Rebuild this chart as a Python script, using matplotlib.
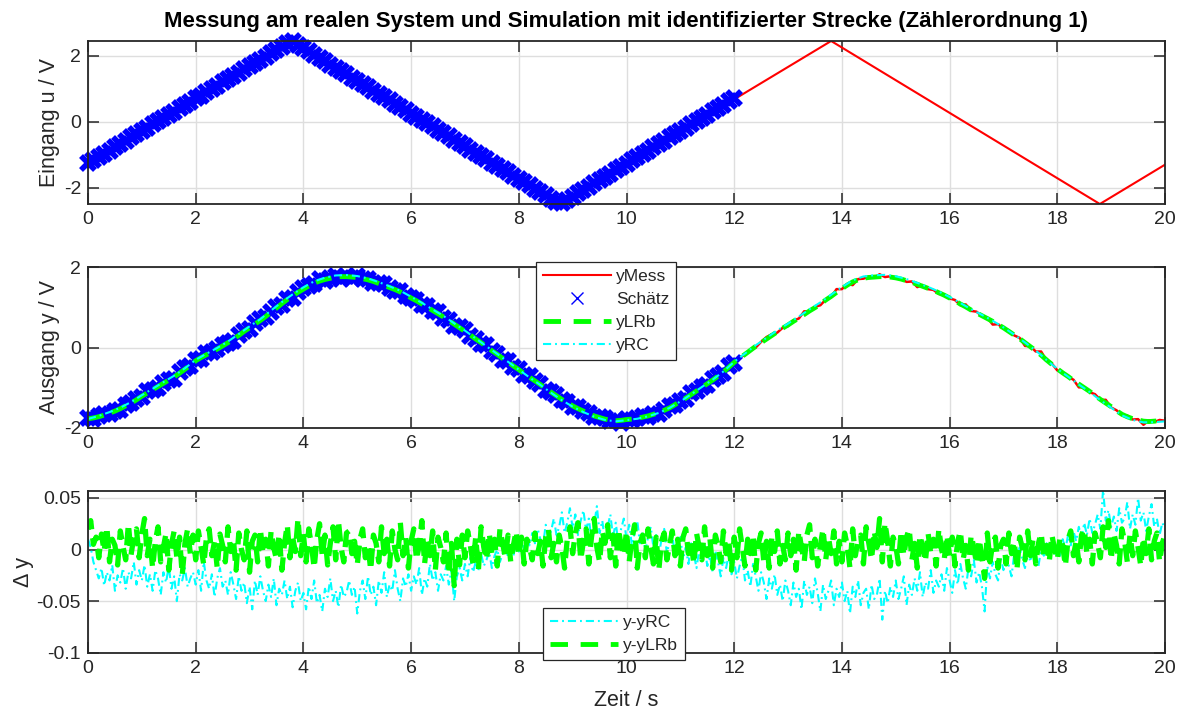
import numpy as np
import matplotlib
matplotlib.use("Agg")
import matplotlib.pyplot as plt
from matplotlib.lines import Line2D

plt.rcParams['font.family'] = ['Liberation Sans', 'DejaVu Sans']
plt.rcParams['axes.unicode_minus'] = False

# ---------------- data ----------------
title = "Messung am realen System und Simulation mit identifizierter Strecke (Zählerordnung 1)"

# input u: corner points of the triangle signal (0..20 s)
t_u = [0.0, 3.78, 8.77, 13.8, 18.79, 20.0]
u_mess = [-1.26, 2.455, -2.494, 2.455, -2.494, -1.30]

# estimation samples of u (0..12 s, every 0.1 s)
u_est = [-1.26, -1.16, -1.06, -0.97, -0.87, -0.77, -0.67, -0.57, -0.47, -0.38,
         -0.28, -0.18, -0.08, 0.02, 0.12, 0.21, 0.31, 0.41, 0.51, 0.61,
         0.71, 0.80, 0.90, 1.00, 1.10, 1.20, 1.30, 1.39, 1.49, 1.59,
         1.69, 1.79, 1.89, 1.98, 2.08, 2.18, 2.28, 2.38, 2.44, 2.34,
         2.24, 2.14, 2.04, 1.94, 1.84, 1.74, 1.64, 1.54, 1.44, 1.34,
         1.24, 1.15, 1.05, 0.95, 0.85, 0.75, 0.65, 0.55, 0.45, 0.35,
         0.25, 0.15, 0.05, -0.04, -0.14, -0.24, -0.34, -0.44, -0.54, -0.64,
         -0.74, -0.84, -0.94, -1.04, -1.14, -1.24, -1.34, -1.43, -1.53, -1.63,
         -1.73, -1.83, -1.93, -2.03, -2.13, -2.23, -2.33, -2.43, -2.46, -2.36,
         -2.27, -2.17, -2.07, -1.97, -1.87, -1.77, -1.67, -1.57, -1.47, -1.37,
         -1.27, -1.17, -1.07, -0.97, -0.87, -0.77, -0.67, -0.57, -0.47, -0.37,
         -0.28, -0.18, -0.08, 0.02, 0.12, 0.22, 0.32, 0.42, 0.52, 0.62,
         0.72]

# measured output y (0..20 s, every 0.1 s)
y_mess = [-1.75, -1.78, -1.71, -1.64, -1.65, -1.58, -1.56, -1.42, -1.39, -1.28,
          -1.23, -1.08, -1.06, -1.00, -0.87, -0.80, -0.78, -0.62, -0.51, -0.46,
          -0.32, -0.28, -0.14, -0.12, -0.04, 0.07, 0.10, 0.17, 0.32, 0.41,
          0.46, 0.60, 0.72, 0.75, 0.87, 1.01, 1.06, 1.20, 1.24, 1.39,
          1.48, 1.52, 1.58, 1.69, 1.66, 1.73, 1.77, 1.71, 1.77, 1.73,
          1.77, 1.69, 1.69, 1.60, 1.61, 1.58, 1.48, 1.41, 1.40, 1.29,
          1.24, 1.19, 1.05, 1.02, 0.91, 0.88, 0.74, 0.68, 0.54, 0.51,
          0.43, 0.29, 0.22, 0.09, 0.06, -0.09, -0.15, -0.31, -0.33, -0.48,
          -0.54, -0.68, -0.70, -0.84, -0.90, -1.05, -1.10, -1.17, -1.31, -1.35,
          -1.49, -1.49, -1.59, -1.62, -1.73, -1.73, -1.75, -1.82, -1.80, -1.87,
          -1.77, -1.81, -1.75, -1.70, -1.72, -1.64, -1.65, -1.55, -1.46, -1.44,
          -1.33, -1.29, -1.14, -1.09, -0.97, -0.94, -0.79, -0.70, -0.64, -0.47,
          -0.38, -0.24, -0.19, -0.06, 0.00, 0.14, 0.26, 0.33, 0.37, 0.49,
          0.53, 0.67, 0.72, 0.90, 0.89, 1.01, 1.05, 1.19, 1.25, 1.45,
          1.45, 1.58, 1.55, 1.70, 1.71, 1.76, 1.73, 1.82, 1.75, 1.77,
          1.71, 1.71, 1.63, 1.64, 1.50, 1.55, 1.45, 1.43, 1.33, 1.32,
          1.22, 1.18, 1.05, 1.07, 0.91, 0.89, 0.78, 0.74, 0.57, 0.58,
          0.47, 0.43, 0.30, 0.24, 0.04, 0.03, -0.10, -0.10, -0.32, -0.40,
          -0.57, -0.61, -0.73, -0.80, -0.99, -0.99, -1.11, -1.16, -1.30, -1.30,
          -1.49, -1.56, -1.68, -1.69, -1.79, -1.78, -1.92, -1.81, -1.85, -1.80,
          -1.82]

# simulated output yLRb (0..20 s, every 0.1 s)
y_lrb = [-1.77, -1.75, -1.72, -1.68, -1.63, -1.58, -1.52, -1.45, -1.38, -1.30,
         -1.21, -1.13, -1.05, -0.97, -0.89, -0.81, -0.73, -0.64, -0.54, -0.44,
         -0.33, -0.25, -0.18, -0.11, -0.04, 0.04, 0.12, 0.21, 0.30, 0.40,
         0.49, 0.58, 0.67, 0.77, 0.88, 0.98, 1.09, 1.19, 1.28, 1.37,
         1.45, 1.53, 1.60, 1.65, 1.69, 1.72, 1.75, 1.76, 1.76, 1.75,
         1.74, 1.71, 1.68, 1.64, 1.59, 1.54, 1.49, 1.44, 1.38, 1.31,
         1.23, 1.16, 1.08, 1.00, 0.92, 0.84, 0.76, 0.67, 0.58, 0.49,
         0.40, 0.31, 0.21, 0.12, 0.02, -0.08, -0.17, -0.27, -0.36, -0.46,
         -0.55, -0.65, -0.74, -0.83, -0.92, -1.02, -1.11, -1.20, -1.29, -1.37,
         -1.45, -1.52, -1.58, -1.64, -1.70, -1.74, -1.78, -1.80, -1.82, -1.81,
         -1.79, -1.78, -1.76, -1.73, -1.70, -1.66, -1.62, -1.56, -1.50, -1.42,
         -1.34, -1.26, -1.17, -1.08, -0.99, -0.90, -0.81, -0.71, -0.61, -0.49,
         -0.37, -0.27, -0.17, -0.07, 0.03, 0.12, 0.21, 0.30, 0.39, 0.48,
         0.56, 0.65, 0.73, 0.82, 0.91, 0.99, 1.08, 1.18, 1.27, 1.37,
         1.46, 1.55, 1.63, 1.68, 1.72, 1.74, 1.75, 1.76, 1.76, 1.75,
         1.73, 1.70, 1.66, 1.62, 1.57, 1.52, 1.47, 1.42, 1.36, 1.30,
         1.23, 1.16, 1.08, 1.01, 0.93, 0.86, 0.79, 0.72, 0.65, 0.57,
         0.49, 0.40, 0.31, 0.22, 0.12, 0.02, -0.08, -0.19, -0.31, -0.42,
         -0.53, -0.63, -0.72, -0.82, -0.91, -1.00, -1.09, -1.19, -1.29, -1.38,
         -1.47, -1.57, -1.66, -1.72, -1.77, -1.80, -1.83, -1.84, -1.83, -1.82,
         -1.81]

# simulated output yRC (0..20 s, every 0.2 s)
y_rc = [-1.775, -1.70, -1.605, -1.495, -1.355, -1.185, -1.025, -0.86, -0.70, -0.515,
        -0.305, -0.155, -0.01, 0.15, 0.335, 0.525, 0.705, 0.92, 1.13, 1.32,
        1.495, 1.645, 1.735, 1.79, 1.80, 1.775, 1.715, 1.625, 1.52, 1.41,
        1.26, 1.11, 0.945, 0.785, 0.60, 0.42, 0.225, 0.03, -0.16, -0.355,
        -0.55, -0.745, -0.93, -1.125, -1.31, -1.47, -1.605, -1.72, -1.80, -1.835,
        -1.805, -1.77, -1.71, -1.625, -1.50, -1.34, -1.165, -0.98, -0.80, -0.595,
        -0.355, -0.15, 0.055, 0.24, 0.425, 0.595, 0.77, 0.95, 1.12, 1.31,
        1.50, 1.67, 1.765, 1.795, 1.805, 1.77, 1.70, 1.605, 1.505, 1.39,
        1.255, 1.105, 0.95, 0.81, 0.665, 0.50, 0.32, 0.125, -0.075, -0.31,
        -0.53, -0.725, -0.92, -1.105, -1.31, -1.495, -1.685, -1.80, -1.86, -1.855,
        -1.835]

# difference y - yRC (0..20 s, every 0.05 s)
d_rc = [0.010, 0.002, -0.012, -0.020, -0.028, -0.018, -0.035, -0.022, -0.030, -0.015, -0.040, -0.025, -0.032, -0.018, -0.038, -0.022, -0.028, -0.012, -0.034, -0.020,
        -0.030, -0.015, -0.036, -0.024, -0.040, -0.020, -0.028, -0.044, -0.022, -0.032, -0.016, -0.038, -0.026, -0.050, -0.024, -0.030, -0.018, -0.036, -0.028, -0.022,
        -0.034, -0.020, -0.040, -0.012, -0.030, -0.038, -0.024, -0.046, -0.028, -0.018, -0.036, -0.030, -0.044, -0.022, -0.034, -0.048, -0.026, -0.040, -0.032, -0.052,
        -0.036, -0.058, -0.030, -0.044, -0.026, -0.040, -0.050, -0.034, -0.046, -0.028, -0.054, -0.038, -0.044, -0.030, -0.048, -0.036, -0.056, -0.040, -0.032, -0.050,
        -0.042, -0.058, -0.036, -0.048, -0.030, -0.052, -0.044, -0.060, -0.038, -0.046, -0.028, -0.050, -0.040, -0.056, -0.034, -0.046, -0.042, -0.030, -0.044, -0.036,
        -0.062, -0.040, -0.030, -0.048, -0.026, -0.044, -0.036, -0.054, -0.030, -0.042, -0.022, -0.046, -0.034, -0.040, -0.020, -0.038, -0.050, -0.028, -0.036, -0.024,
        -0.040, -0.026, -0.034, -0.018, -0.044, -0.028, -0.036, -0.014, -0.030, -0.022, -0.040, -0.024, -0.030, -0.016, -0.034, -0.020, -0.050, -0.026, -0.018, -0.030,
        -0.014, -0.026, -0.008, -0.022, -0.012, -0.020, -0.004, -0.016, -0.010, -0.002, -0.018, -0.006, 0.000, -0.012, -0.004, 0.004, -0.008, 0.002, -0.006, 0.006,
        -0.002, 0.008, 0.000, 0.012, 0.004, 0.016, 0.006, 0.020, 0.010, 0.004, 0.024, 0.012, 0.018, 0.030, 0.014, 0.022, 0.036, 0.016, 0.026, 0.040,
        0.020, 0.034, 0.014, 0.028, 0.038, 0.018, 0.030, 0.010, 0.024, 0.042, 0.016, 0.028, 0.008, 0.022, 0.034, 0.012, 0.026, 0.006, 0.020, 0.030,
        0.010, 0.024, 0.004, 0.016, 0.028, 0.006, 0.018, -0.002, 0.012, 0.022, 0.002, 0.014, -0.006, 0.010, 0.020, -0.004, 0.008, 0.016, -0.008, 0.004,
        0.012, -0.010, 0.002, -0.014, 0.006, -0.004, -0.018, 0.000, -0.010, 0.004, -0.016, -0.006, -0.022, -0.002, -0.012, -0.026, -0.008, -0.018, -0.004, -0.024,
        -0.012, -0.028, -0.016, -0.006, -0.030, -0.020, -0.036, -0.014, -0.026, -0.040, -0.022, -0.032, -0.048, -0.028, -0.038, -0.024, -0.044, -0.034, -0.050, -0.030,
        -0.040, -0.054, -0.032, -0.046, -0.038, -0.058, -0.030, -0.044, -0.036, -0.052, -0.028, -0.042, -0.060, -0.034, -0.048, -0.040, -0.030, -0.054, -0.038, -0.046,
        -0.032, -0.050, -0.040, -0.062, -0.036, -0.046, -0.030, -0.054, -0.042, -0.038, -0.058, -0.034, -0.048, -0.044, -0.028, -0.068, -0.040, -0.052, -0.036, -0.046,
        -0.030, -0.048, -0.038, -0.026, -0.054, -0.034, -0.044, -0.028, -0.040, -0.022, -0.046, -0.032, -0.038, -0.020, -0.042, -0.030, -0.036, -0.024, -0.040, -0.018,
        -0.030, -0.042, -0.020, -0.034, -0.014, -0.028, -0.038, -0.018, -0.026, -0.010, -0.032, -0.022, -0.036, -0.060, -0.016, -0.028, -0.012, -0.024, -0.030, -0.008,
        -0.020, -0.006, -0.016, -0.026, -0.004, -0.014, 0.002, -0.010, -0.018, -0.002, -0.012, 0.004, -0.008, -0.016, 0.000, -0.006, 0.006, -0.010, 0.002, -0.004,
        0.004, -0.006, 0.010, 0.000, 0.014, 0.004, 0.018, 0.008, 0.022, 0.010, 0.026, 0.014, 0.030, 0.016, 0.024, 0.034, 0.020, 0.058, 0.028, 0.038,
        0.022, 0.032, 0.018, 0.040, 0.026, 0.030, 0.046, 0.020, 0.034, 0.024, 0.050, 0.028, 0.036, 0.018, 0.032, 0.044, 0.022, 0.030, 0.014, 0.026,
        0.020]

# difference y - yLRb (0..20 s, every 0.05 s)
d_lrb = [0.020, 0.028, 0.005, 0.012, -0.008, 0.015, -0.002, 0.022, -0.012, 0.010, 0.004, -0.015, 0.018, 0.003, -0.010, 0.025, -0.005, 0.012, 0.020, -0.008,
         0.015, 0.030, -0.006, 0.010, -0.018, 0.008, 0.022, -0.012, 0.002, 0.016, -0.020, 0.005, 0.018, -0.008, 0.012, -0.025, 0.006, 0.020, -0.004, 0.014,
         -0.010, 0.018, 0.002, -0.015, 0.012, 0.020, -0.006, 0.008, -0.018, 0.015, 0.004, -0.012, 0.022, -0.002, 0.010, -0.020, 0.016, 0.000, -0.010, 0.018,
         -0.022, 0.008, 0.014, -0.012, 0.020, -0.004, 0.010, -0.016, 0.018, 0.002, -0.010, 0.015, -0.020, 0.006, 0.024, -0.008, 0.012, -0.002, 0.030, -0.006,
         0.015, -0.012, 0.020, 0.004, -0.018, 0.010, 0.025, -0.006, 0.014, -0.015, 0.006, 0.022, -0.010, 0.028, 0.002, -0.012, 0.016, 0.018, -0.004, 0.008,
         -0.015, 0.010, 0.020, -0.008, 0.004, -0.020, 0.014, 0.006, -0.012, 0.022, -0.004, 0.010, -0.016, 0.018, 0.000, -0.010, 0.026, -0.006, 0.012, -0.018,
         0.008, 0.020, -0.010, 0.004, 0.028, -0.014, 0.010, -0.006, 0.018, -0.020, 0.012, 0.002, -0.012, 0.016, -0.024, 0.006, -0.035, 0.010, -0.015, 0.014,
         -0.008, 0.018, 0.004, -0.014, 0.012, -0.020, 0.022, 0.002, -0.010, 0.016, -0.004, 0.010, -0.016, 0.020, 0.006, -0.008, 0.014, -0.012, 0.004, 0.018,
         -0.006, 0.012, -0.014, 0.010, 0.002, -0.010, 0.016, -0.004, 0.008, -0.016, 0.012, 0.020, -0.008, 0.006, -0.012, 0.014, 0.002, -0.018, 0.010, 0.022,
         -0.004, 0.016, 0.026, -0.010, 0.008, 0.020, -0.014, 0.012, 0.030, 0.002, -0.012, 0.018, 0.006, 0.024, -0.008, 0.014, -0.016, 0.020, 0.004, -0.006,
         0.018, -0.012, 0.010, 0.024, -0.018, 0.006, 0.014, -0.008, 0.020, 0.002, -0.014, 0.012, -0.020, 0.008, 0.016, -0.010, 0.004, 0.018, -0.006, 0.010,
         -0.016, 0.012, 0.020, -0.004, 0.008, -0.014, 0.016, 0.002, -0.010, 0.022, -0.006, 0.010, -0.018, 0.014, 0.004, -0.012, 0.018, -0.004, 0.008, -0.020,
         0.012, -0.008, 0.020, 0.002, -0.016, 0.010, -0.004, 0.014, -0.020, 0.006, 0.016, -0.012, 0.008, -0.018, 0.012, -0.002, 0.018, -0.014, 0.004, -0.010,
         0.016, -0.006, 0.010, -0.020, 0.018, 0.002, -0.012, 0.014, 0.024, -0.008, 0.010, -0.016, 0.004, 0.020, -0.010, 0.012, -0.004, 0.018, -0.014, 0.008,
         -0.012, 0.016, 0.004, -0.018, 0.020, -0.006, 0.010, 0.014, -0.014, 0.022, 0.006, -0.010, 0.018, 0.002, 0.030, -0.012, 0.026, 0.008, -0.016, 0.012,
         0.004, -0.014, 0.018, -0.006, 0.012, 0.020, -0.010, 0.006, -0.018, 0.014, 0.002, -0.012, 0.016, -0.004, 0.010, -0.016, 0.020, 0.000, -0.010, 0.014,
         -0.006, 0.012, -0.016, 0.008, 0.018, -0.010, 0.004, -0.020, 0.014, 0.002, -0.014, 0.010, -0.008, -0.028, 0.016, -0.012, 0.006, 0.012, -0.018, 0.004,
         0.010, -0.014, 0.016, -0.004, 0.008, -0.020, 0.012, 0.002, -0.010, 0.018, -0.006, 0.010, -0.014, 0.006, 0.016, -0.008, 0.004, -0.012, 0.014, 0.000,
         -0.010, 0.012, 0.004, -0.016, 0.010, 0.018, -0.006, 0.008, -0.012, 0.014, 0.020, -0.004, 0.010, -0.014, 0.016, 0.006, -0.008, 0.022, 0.002, 0.028,
         -0.010, 0.016, 0.004, -0.014, 0.020, 0.008, -0.012, 0.014, -0.006, 0.018, 0.002, -0.016, 0.012, -0.004, 0.020, -0.010, 0.008, 0.016, -0.012, 0.006,
         0.015]

x_ticks = [0, 2, 4, 6, 8, 10, 12, 14, 16, 18, 20]
x_ticklabels = ["0", "2", "4", "6", "8", "10", "12", "14", "16", "18", "20"]
u_ticks = [-2, 0, 2]
y_ticks = [-2, 0, 2]
d_ticks = [-0.1, -0.05, 0, 0.05]
d_ticklabels = ["-0.1", "-0.05", "0", "0.05"]

assert len(u_est) == 121 and len(y_mess) == 201 and len(y_lrb) == 201
assert len(y_rc) == 101 and len(d_rc) == 401 and len(d_lrb) == 401

# time bases (uniform sampling)
t_est = np.linspace(0, 12, len(u_est))
t_y = np.linspace(0, 20, len(y_mess))
t_rc = np.linspace(0, 20, len(y_rc))
t_d = np.linspace(0, 20, len(d_rc))
n_est = len(u_est)

# ---------------- styling ----------------
RED = '#ff0000'
BLUE = '#0000ff'
GREEN = '#00ff00'
CYAN = '#00ffff'
DARK = '#262626'
GRID = '#dedede'

W, H = 1180, 710
fig = plt.figure(figsize=(W / 100, H / 100), dpi=100)


def add_ax(top_px, bottom_px):
    left, right = 88, 1165
    return fig.add_axes([left / W, 1 - bottom_px / H, (right - left) / W,
                         (bottom_px - top_px) / H])


ax1 = add_ax(41, 204)
ax2 = add_ax(267, 428)
ax3 = add_ax(490.7, 652.7)


def style(ax):
    ax.set_xlim(0, 20)
    ax.set_xticks(x_ticks)
    ax.set_xticklabels(x_ticklabels)
    ax.grid(True, color=GRID, linewidth=1.0)
    ax.set_axisbelow(True)
    ax.tick_params(direction='in', length=7.8, width=1.1, color=DARK,
                   labelcolor=DARK, labelsize=14, top=True, right=True)
    ax.tick_params(axis='x', pad=5)
    ax.tick_params(axis='y', pad=5)
    for s in ax.spines.values():
        s.set_color(DARK)
        s.set_linewidth(1.3)


MS, MEW = 9.5, 4.0
GREEN_DASH = (3.3, 1.7)
CYAN_DASH = (3.9, 1.9, 0.9, 1.9)

# top: input
ax1.plot(t_u, u_mess, color=RED, lw=1.5)
ax1.plot(t_est, u_est, linestyle='none', marker='x', color=BLUE,
         markersize=MS, markeredgewidth=MEW, clip_on=False)
ax1.set_ylim(-2.494, 2.455)
ax1.set_yticks(u_ticks)
style(ax1)
ax1.set_ylabel("Eingang u / V", fontsize=15.5, color=DARK)
ax1.yaxis.set_label_coords(-0.026, 0.5)

# middle: output
ax2.plot(t_y, y_mess, color=RED, lw=1.8)
ax2.plot(t_est, y_mess[:n_est], linestyle='none', marker='x', color=BLUE,
         markersize=MS, markeredgewidth=MEW, clip_on=False)
ax2.plot(t_y, y_lrb, color=GREEN, lw=3.5, dashes=GREEN_DASH)
ax2.plot(t_rc, y_rc, color=CYAN, lw=1.5, dashes=CYAN_DASH)
ax2.set_ylim(-2, 2)
ax2.set_yticks(y_ticks)
style(ax2)
ax2.set_ylabel("Ausgang y / V", fontsize=15.5, color=DARK)
ax2.yaxis.set_label_coords(-0.026, 0.5)

leg_kw = dict(loc='upper left', bbox_transform=fig.transFigure, borderaxespad=0,
              fontsize=12.5, handlelength=3.9, handletextpad=0.3,
              labelspacing=0.45, borderpad=0.4, fancybox=False,
              framealpha=1, edgecolor=DARK)

h_mess = Line2D([], [], color=RED, lw=1.5)
h_est = Line2D([], [], linestyle='none', marker='x', color=BLUE,
               markersize=9, markeredgewidth=1.0)
h_lrb = Line2D([], [], color=GREEN, lw=3.5, dashes=(3.6, 2.6))
h_rc = Line2D([], [], color=CYAN, lw=1.5, dashes=CYAN_DASH)
leg = ax2.legend([h_mess, h_est, h_lrb, h_rc], ["yMess", "Schätz", "yLRb", "yRC"],
                 bbox_to_anchor=(536 / W, 1 - 262 / H), **leg_kw)
leg.get_frame().set_linewidth(0.9)
for txt in leg.get_texts():
    txt.set_color(DARK)

# bottom: differences
ax3.plot(t_d, d_rc, color=CYAN, lw=1.5, dashes=CYAN_DASH)
ax3.plot(t_d, d_lrb, color=GREEN, lw=3.8, dashes=GREEN_DASH)
ax3.set_ylim(-0.1, 0.057)
ax3.set_yticks(d_ticks)
ax3.set_yticklabels(d_ticklabels)
style(ax3)
ax3.set_ylabel("Δ y", fontsize=15.5, color=DARK)
ax3.yaxis.set_label_coords(-0.050, 0.5)

h_drc = Line2D([], [], color=CYAN, lw=1.5, dashes=CYAN_DASH)
h_dlrb = Line2D([], [], color=GREEN, lw=3.5, dashes=(3.6, 2.6))
leg3 = ax3.legend([h_drc, h_dlrb], ["y-yRC", "y-yLRb"],
                  bbox_to_anchor=(543 / W, 1 - 608 / H), **leg_kw)
leg3.get_frame().set_linewidth(0.9)
for txt in leg3.get_texts():
    txt.set_color(DARK)

fig.text(626.5 / W, 1 - 21 / H, title, ha='center', va='center',
         fontsize=16, fontweight='bold', color='black')
fig.text(626.5 / W, 1 - 700 / H, "Zeit / s", ha='center', va='center',
         fontsize=15.5, color=DARK)

fig.savefig("out.png", dpi=100)
